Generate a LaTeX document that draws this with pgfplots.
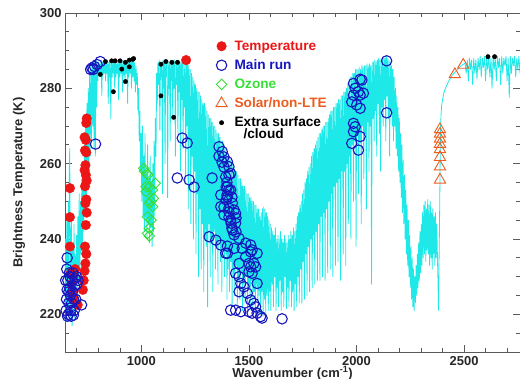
\documentclass[border=0pt]{standalone}
\usepackage{fontspec}
\setmainfont{Liberation Sans}
\usepackage{pgfplots}
\pgfplotsset{compat=1.18}
\definecolor{spec}{RGB}{30,232,232}
\definecolor{tempred}{RGB}{236,22,22}
\definecolor{mainblue}{RGB}{22,22,190}
\definecolor{ozgreen}{RGB}{55,222,55}
\definecolor{solor}{RGB}{236,92,32}
\definecolor{frame}{RGB}{90,90,90}
\begin{document}
\begin{tikzpicture}
\begin{axis}[
  scale only axis, width=455bp, height=339bp,
  xmin=645, xmax=2760, ymin=210, ymax=300,
  xtick={1000,1500,2000,2500}, minor xtick={700,800,...,2700},
  ytick={220,240,...,300}, minor ytick={210,215,...,300},
  tick align=inside, major tick length=7bp, minor tick length=4bp,
  axis line style={frame, line width=0.8bp}, tick style={frame, line width=0.7bp},
  /pgf/number format/assume math mode=true,
  /pgf/number format/1000 sep={},
  tick label style={font=\fontsize{13}{13}\selectfont\bfseries, text=black!85},
  xticklabel style={inner sep=1bp, yshift=-3bp},
  label style={font=\fontsize{13}{13}\selectfont\bfseries, text=black!85},
  xlabel={Wavenumber (cm\textsuperscript{-1})},
  ylabel={Brightness Temperature (K)},
  xlabel style={at={(rel axis cs:0.5,0)}, anchor=north, inner sep=0.3bp, yshift=-14bp},
  ylabel shift=8bp,
  legend cell align=left,
  legend image code/.code={\draw[mark repeat=2,mark phase=2,#1] plot coordinates {(0bp,0bp)(6bp,0bp)(12bp,0bp)}; \path[draw=none,fill=none] (0bp,0bp) rectangle (17bp,0.1bp);},
  legend style={at={(axis cs:1344,293.2)}, anchor=north west, draw=none, fill=none,
    font=\fontsize{13.7}{13.7}\selectfont\bfseries, row sep=3.9bp, inner sep=0pt},
]
\coordinate (sw) at (rel axis cs:0,0);
\coordinate (ne) at (rel axis cs:1,1);
\addplot[spec, line width=0.8bp, line join=round, forget plot] coordinates {
(645,221)(648,240)(651,218)(654,246)(657,220)(660,250)(663,222)(665,258)(667,264)(669,240)(672,219)(675,245)(678,217)(681,238)(684,222)(687,244)(690,219)(693,236)(696,224)(699,241)
(702,226)(705,246)(708,228)(711,252)(714,232)(717,250)(720,236)
(723,256)(726,238)(729,260)(732,242)(735,265)(738,246)(741,270)(744,250)(747,276)(750,255)(753,280)(756,258)(759,284)
(762,262)(765,286)(768,266)(771,287)(774,270)(777,286.5)(780,264)(783,287)(786,262)(789,287.5)(792,275)(795,287)
(798,282)(801,287)(804,284)(807,286.5)(810,283)(813,287.5)(816,278)(819,287)(822,283.5)(825,287)(828,284)(831,287.5)(834,282)(837,287)(840,284)(843,286.5)(846,276)(849,287)(852,283)(855,287.5)(858,272)(861,287)(864,283)(867,287)(870,284)(873,287.5)(876,280)(879,287)(882,283)(885,286.5)(888,284)(891,287)(894,277)(897,287.5)(900,283)(903,287)(906,284)(909,287)(912,279)(915,287.5)(918,283.5)(921,287)(924,282)(927,287.5)(930,284)(933,287)(936,276)(939,287.5)(942,283)(945,287)(948,284)(951,287.5)(954,280)(957,287)(960,283)(963,287.5)(966,282)(969,287)(972,279)(975,286)
(978,281)(981,284)(984,274)(987,280)(990,266)(993,274)(996,258)(999,268)
(1002,250)(1005,270)(1008,246)(1011,262)(1014,242)(1017,268)(1020,245)(1023,258)(1026,240)(1029,265)(1032,244)(1035,256)(1038,239)(1041,262)(1044,243)(1047,254)(1050,238)(1053,260)(1056,242)(1059,266)(1062,246)(1065,272)
(1068,262)(1071,284)(1074,276)(1077,287)
(1080,281)(1083,287.5)(1086,269)(1089,287)(1092,283)(1095,287)(1098,252)(1101,287.5)(1104,280)(1107,287)(1110,260)(1113,287)(1116,283)(1119,287.5)(1122,251)(1125,287)(1128,280)(1131,287)(1134,266)(1137,287.5)(1140,282)(1143,287)(1146,272)(1149,287)(1152,280)(1155,287.5)(1158,262)(1161,287)(1164,281)(1167,287)(1170,268)(1173,287.5)(1176,279)(1179,287)(1182,258)(1185,287)(1188,277)(1191,287.5)(1194,264)(1197,287)(1200,275)(1203,287)(1206,255)(1209,287.5)(1212,270)(1215,287)(1218,248)(1221,286)(1224,266)(1227,285)(1230,244)
(1233,284)(1236,262)(1239,283)(1242,240)(1245,282)(1248,258)(1251,281)(1254,236)(1257,280)(1260,252)(1263,279)(1266,230)(1269,279)(1272,248)(1275,278)(1278,232)(1281,277)(1284,244)(1287,276)(1290,226)(1293,276)(1296,240)(1299,275)
(1302,238)(1305,274)(1308,222)(1311,273)(1314,244)(1317,272)(1320,230)(1323,272)(1326,240)(1329,271)(1332,226)(1335,270)(1338,242)(1341,270)(1344,232)(1347,269)(1350,238)(1353,268)(1356,228)(1359,268)(1362,240)(1365,267)(1368,234)(1371,266)(1374,226)(1377,266)(1380,238)(1383,265)(1386,230)(1389,264)(1392,236)(1395,263)(1398,224)
(1401,262)(1404,232)(1407,262)(1410,226)(1413,261)(1416,234)(1419,260)(1422,222)(1425,260)(1428,230)(1431,259)(1434,225)(1437,258)(1440,233)(1443,258)(1446,222)(1449,257)(1452,229)(1455,256)(1458,224)(1461,256)(1464,231)(1467,255)(1470,221)(1473,254)(1476,228)(1479,254)(1482,223)(1485,253)(1488,230)(1491,252)(1494,221)(1497,252)(1500,227)(1503,251)(1506,222)(1509,251)(1512,229)(1515,250)(1518,221)(1521,250)(1524,226)(1527,249)(1530,220)(1533,249)(1536,227)(1539,248)(1542,221)(1545,248)(1548,225)
(1551,246)(1554,220)(1557,247)(1560,226)(1563,248)(1566,219.5)(1569,248.5)(1572,224)(1575,248)(1578,220)(1581,247)(1584,225)(1587,246)(1590,221)(1593,245)(1596,226)(1599,244)
(1602,221)(1605,243)(1608,228)(1611,242)(1614,222)(1617,241)(1620,230)(1623,243)(1626,221)(1629,240)(1632,227)(1635,241)(1638,222)(1641,240)(1644,229)(1647,242)(1650,221)(1653,240)(1656,226)(1659,239)(1662,222)(1665,241)(1668,230)(1671,240)(1674,221.5)(1677,239)(1680,227)(1683,241)(1686,222)(1689,240)(1692,229)(1695,242)(1698,222)(1701,241)(1704,226)(1707,243)(1710,221)(1713,242)(1716,228)(1719,244)
(1722,222)(1725,246)(1728,230)(1731,247)(1734,223)(1737,249)(1740,232)(1743,250)(1746,223)(1749,252)(1752,234)(1755,253)(1758,224)(1761,255)(1764,236)(1767,256)(1770,225)(1773,258)(1776,238)(1779,259)(1782,226)(1785,260)(1788,240)(1791,262)(1794,227)(1797,263)(1800,241)(1803,264)(1806,228)(1809,265)(1812,242)(1815,266)(1818,229)(1821,267)(1824,244)(1827,268)(1830,229)(1833,268)(1836,246)(1839,269)(1842,230)(1845,270)(1848,247)(1851,270)(1854,229)(1857,271)(1860,248)(1863,271)(1866,231)(1869,272)
(1872,250)(1875,273)(1878,232)(1881,274)(1884,252)(1887,274)(1890,230)(1893,275)(1896,254)(1899,275)(1902,233)(1905,276)(1908,255)(1911,276)(1914,234)(1917,277)(1920,256)(1923,277)(1926,229)(1929,278)(1932,258)(1935,278)(1938,236)(1941,279)(1944,258)(1947,279)(1950,233)(1953,280)(1956,260)(1959,281)
(1962,244)(1965,282)(1968,262)(1971,283)(1974,240)(1977,283)(1980,265)(1983,284)(1986,250)(1989,284)(1992,266)(1995,285)(1998,238)(2001,285)(2004,268)(2007,285)(2010,252)(2013,285.5)(2016,266)(2019,285)(2022,244)(2025,286)(2028,270)(2031,285.5)(2034,256)(2037,286)(2040,268)(2043,286)(2046,248)(2049,286.5)(2052,271)(2055,286)(2058,258)(2061,286.5)(2064,270)(2067,286)(2070,228)(2073,287)
(2076,272)(2079,287)(2082,266)(2085,287.5)(2088,274)(2091,287)(2094,262)(2097,287.5)(2100,276)(2103,288)(2106,268)(2109,287.5)(2112,258)(2115,288)(2118,275)(2121,287.5)(2124,270)(2127,288)(2130,277)(2133,288)(2136,266)(2139,288.5)(2142,278)(2145,288)(2148,272)(2151,287.5)(2154,262)(2157,287)(2160,274)(2163,286)(2166,270)(2169,285)(2172,266)(2175,283)(2178,270)
(2181,280)(2184,264)(2187,278)(2190,262)(2193,275)(2196,258)(2199,272)(2202,255)(2205,268)(2208,251)(2211,265)(2214,247)(2217,261)(2220,244)(2223,257)(2226,240)(2229,253)(2232,236)(2235,249)(2238,233)(2241,245)(2244,230)(2247,241)(2250,227)(2253,238)(2256,224)(2259,235)(2262,222)(2265,232)(2268,221)(2271,230)
(2274,223)(2277,233)(2280,225)(2283,236)(2286,227)(2289,239)(2292,229)(2295,242)(2298,231)(2301,244)(2304,233)(2307,247)(2310,235)(2313,249)(2316,236)(2319,250)(2322,234)(2325,248)(2328,237)(2331,250.5)
(2334,236)(2337,249)(2340,233)(2343,250)(2346,235)(2349,247)(2352,232)(2355,248)(2358,236)(2361,246)(2364,233)(2367,247)(2370,235)(2373,244)(2376,236)(2379,228)(2381,221)(2384,235)(2387,250)(2389,262)(2391,270)
(2393,273)(2396,275.5)(2400,277)(2405,278.5)(2410,279.5)(2417,280.5)(2425,281.5)(2435,282.5)(2445,283.5)(2458,284.3)(2470,285)(2480,285.7)(2492,286.2)(2505,286.7)
(2510,284)(2515,287.5)(2520,282)(2525,288)(2530,285)(2535,287.5)(2540,281)(2545,288)(2550,284)(2555,287.5)(2560,282.5)(2565,288)(2570,285)(2575,288.5)(2580,283)(2585,288)(2590,285.5)(2595,288.5)(2600,282)(2605,288)(2610,285)(2615,288.5)(2620,283)(2625,288)(2630,280)(2635,288.5)(2640,285)(2645,288)(2650,282)(2655,288.5)(2660,285.5)(2665,288)(2670,281)(2675,288.5)(2680,284)(2685,288)(2690,286)(2695,288.5)(2700,282)(2705,288)(2710,277.5)(2715,288.5)(2720,284)(2725,288)(2730,286)(2735,288.5)(2740,283)(2745,288)(2750,285)(2755,288.5)(2760,284)
};
\addplot[only marks, mark=*, mark size=4.8bp, color=tempred, mark options={fill=tempred}] coordinates {
(668,253.5)(668,245.8)(668,238)(672,231)(676,228)(680,226)(684,230)(688,224)(692,232)(704,222.5)
(728,226.5)(732,229)(736,231.5)(740,233.5)(744,236)(738,238)(742,243.7)(746,247)(740,249.5)(744,250.5)
(738,254)(746,255.5)(742,257)(736,258.3)(740,259.6)(744,263)(738,263.5)(742,266.3)(736,267)(744,270.8)(746,272)
(1208,287.5)
};
\addlegendentry{\textcolor{tempred}{Temperature}}
\addplot[only marks, mark=o, mark size=5.2bp, line width=1.1bp, color=mainblue] coordinates {
(648,229)(650,221)(652,224)(653,232)(655,226.5)(655,235)(657,219.5)(658,229)(660,220)(662,223)(663,226)(665,231)(667,227)(668,230)(670,225)(672,221)(674,219.5)(676,223)(678,229)(680,226)(682,231)(684,219.8)(685,224)(688,221)(690,227.5)(692,229.5)(695,224)(698,230)(700,228)(706,229)(722,222.5)
(764,285)(770,285.4)(776,285)(782,285.8)(794,286.3)(809,287.1)(787,265.2)
(1190,266.8)(1213,265.5)(1167,256.2)(1222,255.7)(1245,253.8)
(1329,256.2)(1361,262)(1375,260.4)(1384,259.1)
(1407,257)(1398,255.1)(1394,253.8)(1407,253)(1398,251.7)(1421,251.1)(1394,250.4)(1384,248.5)(1407,248.2)(1431,247.7)(1384,246.4)(1407,245.8)(1440,245.6)(1417,244.2)(1421,242.9)(1440,241.9)(1431,241.1)
(1315,240.6)(1346,239.7)(1369,238.4)(1400,238.1)(1392,236.2)(1431,237.5)(1454,240.2)(1469,237.5)(1508,238.4)(1508,236.6)(1485,235.3)(1500,233.5)(1508,232.6)(1523,233.5)(1500,231.3)(1515,230.9)(1438,230.9)(1454,230)(1462,228.2)(1477,227.3)(1454,226)(1492,225.6)(1538,228.2)(1508,223.8)(1523,222.9)(1531,222)(1415,221.1)(1438,221.1)(1462,220.7)(1500,220.7)(1515,220.3)(1538,220.3)(1554,219.4)(1561,219)(1654,218.8)
(1361,264.5)(1376,263.2)(1384,261.8)(1400,260.5)(1407,259.2)(1392,256.5)(1415,257.4)(1400,253.9)(1415,253)(1369,251.7)(1400,251.2)(1423,249.5)(1369,248.6)(1407,247.2)(1438,246.8)(1415,245)(1438,244.2)(1423,242.4)(1485,238.9)(1515,237.1)(1538,236.2)(1400,236.2)(1454,233.5)(1531,232.6)
(1986,281.3)(2017,282.4)(2025,282.2)(1994,280)(2009,279.1)(2032,278.7)(1986,278.2)(2017,278.2)(1978,276.4)(2001,275.6)(2017,274.7)(1986,270.7)(1994,269.8)(1986,268.5)(2017,267.2)(1978,265.4)(2009,263.6)(2140,287.3)(2140,273.5)
};
\addlegendentry{\textcolor{mainblue}{Main run}}
\addplot[only marks, mark=square, mark size=3.7bp, line width=0.9bp, color=ozgreen, mark options={rotate=45}] coordinates {
(1011,258.8)(1026,257.4)(1022,253.9)(1037,253.9)(1065,254.8)(1052,253)(1022,252.6)(1056,250.8)(1037,249.5)(1052,248.6)(1029,245.9)(1045,245)(1037,242.8)(1029,241.5)(1037,240.8)(1014,258)(1030,257)(1044,250)
};
\addlegendentry{\textcolor{ozgreen}{Ozone}}
\addplot[only marks, mark=triangle, mark size=6.5bp, line width=0.9bp, color=solor] coordinates {
(2388,269.1)(2388,267.9)(2388,266.6)(2388,265.2)(2388,263.8)(2388,261.7)(2388,259.2)(2388,255.7)(2457,283.7)(2496,286.2)
};
\addlegendentry{\textcolor{solor}{Solar/non-LTE}}
\addplot[only marks, mark=*, mark size=2.2bp, color=black] coordinates {
(833,287.1)(862,287.3)(878,287.3)(901,287.3)(926,286.9)(944,287.5)(960,287.7)(964,287.9)(809,283.7)(909,285.1)(944,285.7)(926,281.8)(870,279.1)
(1091,286.4)(1114,287.1)(1142,286.9)(1168,286.9)(1091,278)(1150,272.3)(2611,288.4)(2642,288.4)
};
\addlegendentry{\begin{tabular}[t]{@{}l@{}}Extra surface\\[-2.5bp]\hspace*{9bp}/cloud\end{tabular}}
\end{axis}
\pgfresetboundingbox
\useasboundingbox ([xshift=-65bp,yshift=-27bp]sw) rectangle ([yshift=13bp]ne);
\end{tikzpicture}
\end{document}
